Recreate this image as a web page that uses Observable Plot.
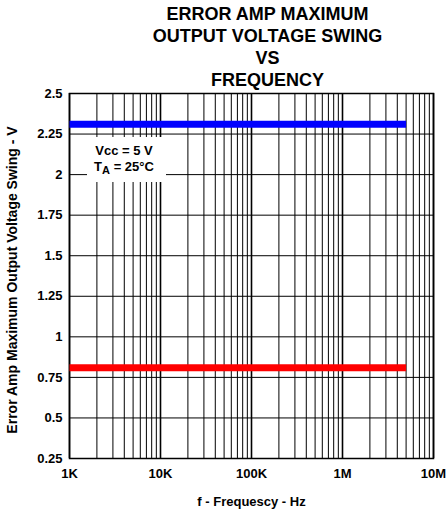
<!DOCTYPE html>
<html>
<head>
<meta charset="utf-8">
<script src="https://cdn.jsdelivr.net/npm/d3@7"></script>
<script src="https://cdn.jsdelivr.net/npm/@observablehq/plot@0.6"></script>
<style>
  html, body { margin: 0; padding: 0; background: #fff; }
  svg { display: block; }
</style>
</head>
<body>
<div id="chart"></div>
<script>
// ---- data ----
const titleLines = ["ERROR AMP MAXIMUM", "OUTPUT VOLTAGE SWING", "VS", "FREQUENCY"];
const xLabel = "f - Frequescy - Hz";
const yLabel = "Error Amp Maximum Output Voltage Swing - V";
const xTickValues = [1e3, 1e4, 1e5, 1e6, 1e7];
const xTickLabels = ["1K", "10K", "100K", "1M", "10M"];
const yTickValues = [0.25, 0.5, 0.75, 1, 1.25, 1.5, 1.75, 2, 2.25, 2.5];
const freq = [1e3, 5e6];
const highSwing = [2.31, 2.31];   // blue
const lowSwing = [0.81, 0.81];    // red
const legendLines = ["Vcc = 5 V", "TA = 25°C"];

// minor grid (1..9 per decade)
const xGrid = [];
for (let e = 3; e < 7; e++) for (let m = 1; m < 10; m++) xGrid.push(m * 10 ** e);
xGrid.push(1e7);
const xDecades = xTickValues;

const high = freq.map((f, i) => ({f, v: highSwing[i]}));
const low = freq.map((f, i) => ({f, v: lowSwing[i]}));

const FONT = "'Liberation Sans', Arial, Helvetica, sans-serif";

function legendMark(index, scales, values, dims) {
  const g = d3.create("svg:g");
  const x0 = dims.marginLeft + 18, y0 = dims.marginTop + 44;
  g.append("rect").attr("x", x0).attr("y", y0).attr("width", 79).attr("height", 45).attr("fill", "white");
  g.append("text").attr("x", x0 + 37).attr("y", y0 + 18)
    .attr("text-anchor", "middle").attr("font-family", FONT).attr("font-weight", "bold").attr("font-size", 13)
    .text(legendLines[0]);
  const t = g.append("text").attr("x", x0 + 37).attr("y", y0 + 34)
    .attr("text-anchor", "middle").attr("font-family", FONT).attr("font-weight", "bold").attr("font-size", 13);
  t.append("tspan").text("T");
  t.append("tspan").attr("dy", 3).attr("font-size", 11).text("A");
  t.append("tspan").attr("dy", -3).text(" = 25°C");
  return g.node();
}

const plot = Plot.plot({
  width: 448,
  height: 517,
  marginTop: 93,
  marginLeft: 69,
  marginRight: 15,
  marginBottom: 59,
  style: {fontFamily: FONT, fontWeight: "bold", fontSize: "13px", color: "black", background: "white"},
  x: {type: "log", domain: [1e3, 1e7]},
  y: {domain: [0.25, 2.5]},
  marks: [
    Plot.ruleX(xGrid, {stroke: "black", strokeWidth: 1}),
    Plot.ruleX(xDecades, {stroke: "black", strokeWidth: 1.6}),
    Plot.ruleY(yTickValues, {stroke: "black", strokeWidth: 1}),
    legendMark,
    Plot.frame({stroke: "black", strokeWidth: 1.5}),
    Plot.line(high, {x: "f", y: "v", stroke: "#0000ff", strokeWidth: 7, strokeLinecap: "butt"}),
    Plot.line(low, {x: "f", y: "v", stroke: "#ff0000", strokeWidth: 7, strokeLinecap: "butt"}),
    Plot.axisX({ticks: xTickValues, tickFormat: d => xTickLabels[xTickValues.indexOf(d)], tickSize: 0, tickPadding: 10, fontSize: 13, fontWeight: "bold", label: null}),
    Plot.axisY({ticks: yTickValues, tickFormat: d => String(d), tickSize: 0, tickPadding: 7, fontSize: 13, fontWeight: "bold", label: null}),
    Plot.text([xLabel], {frameAnchor: "bottom", dy: 47, fontSize: 13, fontWeight: "bold", fill: "black"}),
    Plot.text([yLabel], {frameAnchor: "left", textAnchor: "middle", dx: -57, dy: 4, rotate: -90, fontSize: 14, fontWeight: "bold", fill: "black"}),
    Plot.text([titleLines.join("\n")], {frameAnchor: "top", dx: 16, dy: -48, lineAnchor: "middle", lineHeight: 1.222, fontSize: 18, fontWeight: "bold", fill: "black"})
  ]
});
document.getElementById("chart").appendChild(plot);
</script>
</body>
</html>
